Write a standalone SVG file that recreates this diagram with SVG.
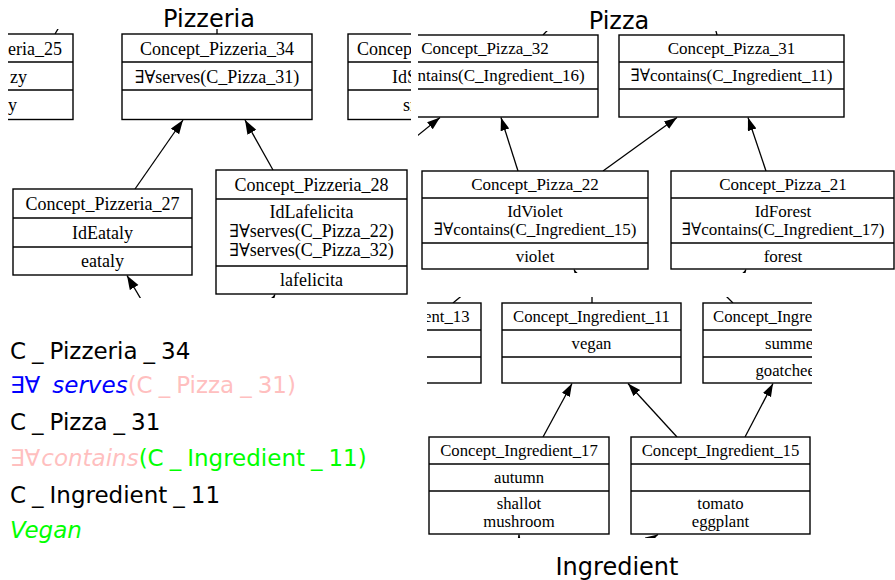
<svg xmlns="http://www.w3.org/2000/svg" width="895" height="580" viewBox="0 0 895 580">
<style>
.box{fill:#fff;stroke:#000;stroke-width:1.4}
.div{stroke:#000;stroke-width:1.4}
.edge{fill:none;stroke:#000;stroke-width:1.3}
.s18{font-family:"Liberation Serif","DejaVu Serif",serif;font-size:18px;text-anchor:middle;fill:#000}
.s17{font-family:"Liberation Serif","DejaVu Serif",serif;font-size:17px;text-anchor:middle;fill:#000}
.s16{font-family:"Liberation Serif","DejaVu Serif",serif;font-size:16.7px;text-anchor:middle;fill:#000}
.st{text-anchor:start}
.en{text-anchor:end}
.ttl{font-family:"DejaVu Sans",sans-serif;font-size:24px;text-anchor:middle;fill:#000}
.lbl{font-family:"DejaVu Sans",sans-serif;font-size:23px;fill:#000}
.it{font-style:italic}
.blue{fill:#0000ff}
.pink{fill:#ffbfbf}
.green{fill:#00ff00}
</style>
<defs>
<clipPath id="cpz"><rect x="8" y="29" width="403" height="269"/></clipPath>
<clipPath id="cpa"><rect x="418" y="31" width="477" height="242"/></clipPath>
<clipPath id="cin"><rect x="427" y="297" width="385" height="241"/></clipPath>
<marker id="ah" markerUnits="userSpaceOnUse" viewBox="0 0 15 11" markerWidth="15" markerHeight="11" refX="14" refY="5" orient="auto"><path d="M0,0 L14,5 L0,10 z" fill="#000"/></marker>
<marker id="ah2" markerUnits="userSpaceOnUse" viewBox="0 0 14 10" markerWidth="14" markerHeight="10" refX="13" refY="4.5" orient="auto"><path d="M0,0 L13,4.5 L0,9 z" fill="#000"/></marker>
</defs>
<rect width="895" height="580" fill="#fff"/>

<text class="ttl" x="209" y="27">Pizzeria</text>
<text class="ttl" x="619" y="29">Pizza</text>
<text class="ttl" x="617" y="575">Ingredient</text>

<g id="connectors">
<g clip-path="url(#cpz)">
<path class="edge" d="M55,34 L75,0"/>
<path class="edge" d="M217,34 L217,0"/>
<path class="edge" d="M135,189 L183,120" marker-end="url(#ah)"/>
<path class="edge" d="M273,170 L245,120" marker-end="url(#ah)"/>
<path class="edge" d="M148,311 L127,275.5" marker-end="url(#ah)"/>
<path class="edge" d="M250,340 L275,294.5" marker-end="url(#ah)"/>
</g>
<g clip-path="url(#cpa)">
<path class="edge" d="M543,35 L565,12"/>
<path class="edge" d="M717,35 L711,12"/>
<path class="edge" d="M380,166 L440,117.5" marker-end="url(#ah2)"/>
<path class="edge" d="M518,171 L501,117.5" marker-end="url(#ah2)"/>
<path class="edge" d="M603,171 L677,117.5" marker-end="url(#ah2)"/>
<path class="edge" d="M766,171 L748,117.5" marker-end="url(#ah2)"/>
<path class="edge" d="M600,320 L574,269.5" marker-end="url(#ah2)"/>
<path class="edge" d="M720,320 L746,269.5" marker-end="url(#ah2)"/>
</g>
<g clip-path="url(#cin)">
<path class="edge" d="M453,303 L477,283"/>
<path class="edge" d="M592,303 L592,280"/>
<path class="edge" d="M733,303 L715,285"/>
<path class="edge" d="M543,437 L572,383.5" marker-end="url(#ah2)"/>
<path class="edge" d="M677,437 L628,383.5" marker-end="url(#ah2)"/>
<path class="edge" d="M745,437 L773,383.5" marker-end="url(#ah2)"/>
<path class="edge" d="M519,580 L519,534.5" marker-end="url(#ah2)"/>
<path class="edge" d="M610,565 L658,534.5" marker-end="url(#ah2)"/>
</g>
</g>

<g clip-path="url(#cpz)">
<g id="Concept_Pizzeria_25">
<rect class="box" x="-117" y="34" width="190" height="85.5"/>
<line class="div" x1="-117" y1="62" x2="73" y2="62"/>
<line class="div" x1="-117" y1="90" x2="73" y2="90"/>
<text class="s18 en" x="62" y="54.5">eria_25</text>
<text class="s18 en" x="27" y="82.5">zy</text>
<text class="s18 en" x="17" y="110.5">y</text>
</g>
<g id="Concept_Pizzeria_34">
<rect class="box" x="122" y="34" width="190" height="85.5"/>
<line class="div" x1="122" y1="62" x2="312" y2="62"/>
<line class="div" x1="122" y1="90" x2="312" y2="90"/>
<text class="s18" x="217" y="54.5">Concept_Pizzeria_34</text>
<text class="s18" x="217" y="82.5">∃∀serves(C_Pizza_31)</text>
</g>
<g id="Concept_Pizzeria_right">
<rect class="box" x="348" y="34" width="190" height="85.5"/>
<line class="div" x1="348" y1="62" x2="538" y2="62"/>
<line class="div" x1="348" y1="90" x2="538" y2="90"/>
<text class="s18 st" x="357" y="54.5">Concept</text>
<text class="s18 st" x="392" y="82.5">IdS</text>
<text class="s18 st" x="403" y="110.5">sn</text>
</g>
<g id="Concept_Pizzeria_27">
<rect class="box" x="13" y="189" width="179" height="86"/>
<line class="div" x1="13" y1="218" x2="192" y2="218"/>
<line class="div" x1="13" y1="247" x2="192" y2="247"/>
<text class="s18" x="102.5" y="209.5">Concept_Pizzeria_27</text>
<text class="s18" x="102.5" y="238.5">IdEataly</text>
<text class="s18" x="102.5" y="267">eataly</text>
</g>
<g id="Concept_Pizzeria_28">
<rect class="box" x="216" y="170" width="191" height="124"/>
<line class="div" x1="216" y1="199" x2="407" y2="199"/>
<line class="div" x1="216" y1="266" x2="407" y2="266"/>
<text class="s18" x="311.5" y="190.5">Concept_Pizzeria_28</text>
<text class="s18"><tspan x="311.5" y="218">IdLafelicita</tspan><tspan x="311.5" y="237">∃∀serves(C_Pizza_22)</tspan><tspan x="311.5" y="256">∃∀serves(C_Pizza_32)</tspan></text>
<text class="s18" x="311.5" y="286">lafelicita</text>
</g>
</g>

<g clip-path="url(#cpa)">
<g id="Concept_Pizza_32">
<rect class="box" x="372" y="35" width="226" height="82"/>
<line class="div" x1="372" y1="62" x2="598" y2="62"/>
<line class="div" x1="372" y1="89" x2="598" y2="89"/>
<text class="s17" x="485" y="54">Concept_Pizza_32</text>
<text class="s17 st" x="417.5" y="81">ntains(C_Ingredient_16)</text>
</g>
<g id="Concept_Pizza_31">
<rect class="box" x="619" y="35" width="225" height="82"/>
<line class="div" x1="619" y1="62" x2="844" y2="62"/>
<line class="div" x1="619" y1="89" x2="844" y2="89"/>
<text class="s17" x="731.5" y="54">Concept_Pizza_31</text>
<text class="s17" x="731.5" y="81">∃∀contains(C_Ingredient_11)</text>
</g>
<g id="Concept_Pizza_22">
<rect class="box" x="422" y="171" width="226" height="98"/>
<line class="div" x1="422" y1="198" x2="648" y2="198"/>
<line class="div" x1="422" y1="243" x2="648" y2="243"/>
<text class="s17" x="535" y="190">Concept_Pizza_22</text>
<text class="s17"><tspan x="535" y="217">IdViolet</tspan><tspan x="535" y="235">∃∀contains(C_Ingredient_15)</tspan></text>
<text class="s17" x="535" y="262">violet</text>
</g>
<g id="Concept_Pizza_21">
<rect class="box" x="671" y="171" width="223" height="98"/>
<line class="div" x1="671" y1="198" x2="894" y2="198"/>
<line class="div" x1="671" y1="243" x2="894" y2="243"/>
<text class="s17" x="783" y="190">Concept_Pizza_21</text>
<text class="s17"><tspan x="783" y="217">IdForest</tspan><tspan x="783" y="235">∃∀contains(C_Ingredient_17)</tspan></text>
<text class="s17" x="783" y="262">forest</text>
</g>
</g>

<g clip-path="url(#cin)">
<g id="Concept_Ingredient_13">
<rect class="box" x="302" y="303" width="179" height="80"/>
<line class="div" x1="302" y1="330" x2="481" y2="330"/>
<line class="div" x1="302" y1="357" x2="481" y2="357"/>
<text class="s16 en" x="469.5" y="322">ent_13</text>
</g>
<g id="Concept_Ingredient_11">
<rect class="box" x="502" y="303" width="179" height="80"/>
<line class="div" x1="502" y1="330" x2="681" y2="330"/>
<line class="div" x1="502" y1="357" x2="681" y2="357"/>
<text class="s16" x="591.5" y="322">Concept_Ingredient_11</text>
<text class="s16" x="591.5" y="349">vegan</text>
</g>
<g id="Concept_Ingredient_right">
<rect class="box" x="703" y="303" width="179" height="80"/>
<line class="div" x1="703" y1="330" x2="882" y2="330"/>
<line class="div" x1="703" y1="357" x2="882" y2="357"/>
<text class="s16 st" x="713" y="322">Concept_Ingre</text>
<text class="s16 st" x="765" y="349">summer</text>
<text class="s16 st" x="755.5" y="375.5">goatcheese</text>
</g>
<g id="Concept_Ingredient_17">
<rect class="box" x="429" y="437" width="180" height="97"/>
<line class="div" x1="429" y1="464" x2="609" y2="464"/>
<line class="div" x1="429" y1="491" x2="609" y2="491"/>
<text class="s16" x="519" y="456">Concept_Ingredient_17</text>
<text class="s16" x="519" y="483">autumn</text>
<text class="s16"><tspan x="519" y="509">shallot</tspan><tspan x="519" y="527">mushroom</tspan></text>
</g>
<g id="Concept_Ingredient_15">
<rect class="box" x="631" y="437" width="179" height="97"/>
<line class="div" x1="631" y1="464" x2="810" y2="464"/>
<line class="div" x1="631" y1="491" x2="810" y2="491"/>
<text class="s16" x="720.5" y="456">Concept_Ingredient_15</text>
<text class="s16"><tspan x="720.5" y="509">tomato</tspan><tspan x="720.5" y="527">eggplant</tspan></text>
</g>
</g>

<g id="legend">
<text class="lbl" x="10" y="359">C<tspan dx="6">_</tspan><tspan dx="6">Pizzeria</tspan><tspan dx="6">_</tspan><tspan dx="6">34</tspan></text>
<text class="lbl" x="10" y="393"><tspan class="blue">∃∀</tspan><tspan class="blue it" dx="12">serves</tspan><tspan class="pink">(C</tspan><tspan class="pink" dx="6">_</tspan><tspan class="pink" dx="6">Pizza</tspan><tspan class="pink" dx="6">_</tspan><tspan class="pink" dx="6">31)</tspan></text>
<text class="lbl" x="10" y="430">C<tspan dx="6">_</tspan><tspan dx="6">Pizza</tspan><tspan dx="6">_</tspan><tspan dx="6">31</tspan></text>
<text class="lbl" x="10" y="466"><tspan class="pink">∃∀</tspan><tspan class="pink it" dx="1">contains</tspan><tspan class="green">(C</tspan><tspan class="green" dx="6">_</tspan><tspan class="green" dx="6">Ingredient</tspan><tspan class="green" dx="6">_</tspan><tspan class="green" dx="6">11)</tspan></text>
<text class="lbl" x="10" y="503">C<tspan dx="6">_</tspan><tspan dx="6">Ingredient</tspan><tspan dx="6">_</tspan><tspan dx="6">11</tspan></text>
<text class="lbl green it" x="10" y="538">Vegan</text>
</g>
</svg>
